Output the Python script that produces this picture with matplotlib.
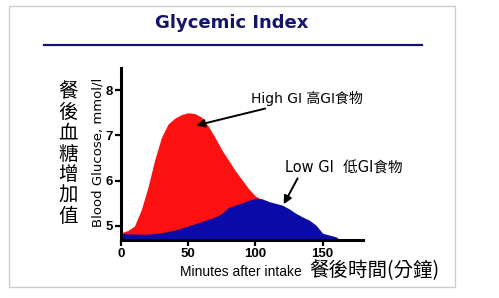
import matplotlib
matplotlib.use("Agg")
import matplotlib.pyplot as plt
from matplotlib.patches import Rectangle
from matplotlib.lines import Line2D

# minutes after intake / blood glucose (mmol/l)
high_t = [0, 5, 10, 15, 20, 25, 30, 35, 40, 45, 50, 55, 60, 65, 70, 75, 80, 85,
          90, 95, 100, 105, 110, 115, 120]
high_gi = [4.85, 4.9, 5.0, 5.35, 5.85, 6.45, 6.95, 7.25, 7.38, 7.46, 7.5, 7.48,
           7.4, 7.2, 6.95, 6.68, 6.45, 6.22, 6.02, 5.82, 5.66, 5.58, 5.45, 5.25, 4.69]

low_t = [0, 10, 20, 30, 40, 50, 60, 70, 75, 80, 85, 90, 95, 100, 105, 110, 115,
         120, 125, 130, 135, 140, 145, 150, 155, 160, 163]
low_gi = [4.84, 4.82, 4.82, 4.85, 4.91, 5.0, 5.1, 5.2, 5.28, 5.41, 5.46, 5.51,
          5.57, 5.61, 5.6, 5.54, 5.5, 5.46, 5.38, 5.28, 5.2, 5.13, 5.02, 4.84,
          4.8, 4.76, 4.69]

x_ticks = [0, 50, 100, 150]
y_ticks = [5, 6, 7, 8]

W, H = 499, 298
fig = plt.figure(figsize=(W / 100, H / 100), dpi=100)
fig.patch.set_facecolor("white")


def px(x, y):
    return x / W, 1 - y / H


# grey panel border
fig.patches.append(Rectangle(px(9, 287), (455 - 9) / W, (287 - 6) / H,
                             transform=fig.transFigure, fill=False,
                             edgecolor="#cccccc", linewidth=1.0))

navy = "#14146b"
fig.text(*px(232, 23), "Glycemic Index", ha="center", va="center",
         fontsize=13, fontweight="bold", color=navy, family="DejaVu Sans")
fig.lines.append(Line2D([44 / W, 422 / W], [1 - 45 / H] * 2,
                        transform=fig.transFigure, color=navy, linewidth=1.6))

left, right, top, bottom = 121, 363, 68, 240
ax = fig.add_axes([left / W, 1 - bottom / H, (right - left) / W, (bottom - top) / H])
ymin = 5 - 14 / 45.3
ymax = 5 + (226 - 68) / 45.3
ax.set_xlim(0, 180)
ax.set_ylim(ymin, ymax)

ax.fill_between(high_t, ymin, high_gi, color="#ff1010", linewidth=0)
ax.fill_between(low_t, ymin, low_gi, color="#0a0aa8", linewidth=0)

for s in ["top", "right"]:
    ax.spines[s].set_visible(False)
for s in ["left", "bottom"]:
    ax.spines[s].set_linewidth(2.2)
ax.set_xticks(x_ticks)
ax.set_yticks(y_ticks)
ax.tick_params(length=4, width=1.6, pad=2)
for lab in ax.get_xticklabels() + ax.get_yticklabels():
    lab.set_family("Liberation Sans")
    lab.set_fontweight("bold")
    lab.set_fontsize(9.5)
ax.set_facecolor("none")

fig.text(*px(98, 152), "Blood Glucose, mmol/l", rotation=90, ha="center",
         va="center", family="DejaVu Sans", fontsize=9.5)

cjk = ["DejaVu Sans", "Noto Sans CJK TC"]
fig.text(*px(68, 154), "\n".join("餐後血糖增加值"), ha="center", va="center",
         fontsize=14, family="Noto Sans CJK TC", fontweight="medium",
         linespacing=0.98)

fig.text(*px(180, 272), "Minutes after intake", ha="left", va="center",
         family="Liberation Sans", fontsize=10)
fig.text(*px(309, 271), "餐後時間(分鐘)", ha="left", va="center",
         family="Noto Sans CJK TC", fontsize=14, fontweight="medium")

# annotations
ax.annotate("High GI 高GI食物", xy=(56, 7.22), xytext=(97, 7.82),
            family=cjk, fontsize=10, ha="left", va="center",
            arrowprops=dict(arrowstyle="-|>", color="black", lw=1.4,
                            mutation_scale=12, shrinkA=0, shrinkB=0))
ax.annotate("Low GI  低GI食物", xy=(121, 5.48), xytext=(122, 6.28),
            family=cjk, fontsize=10.5, ha="left", va="center",
            arrowprops=dict(arrowstyle="-|>", color="black", lw=1.4,
                            mutation_scale=12, shrinkA=0, shrinkB=0,
                            relpos=(0.12, 0.0)))

fig.savefig("out.png", dpi=100)
